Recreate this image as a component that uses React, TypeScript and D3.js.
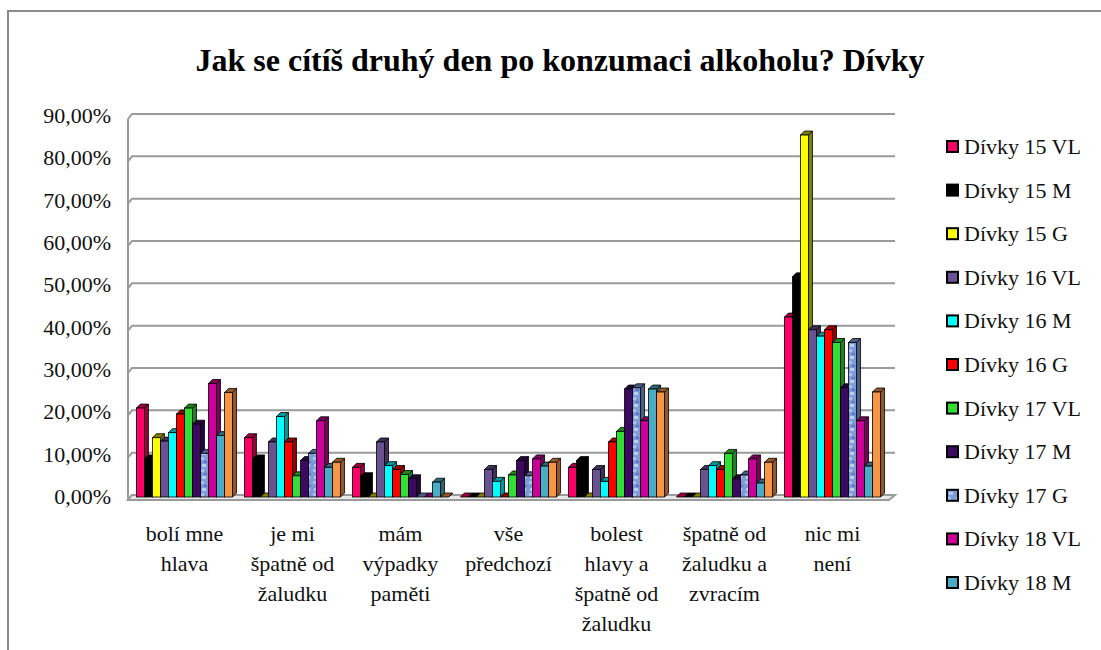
import React, { useRef, useEffect } from 'react';
import * as d3 from 'd3';

// categories (x axis), each split in lines as in the original chart
const categories = [
  'bolí mne hlava',
  'je mi špatně od žaludku',
  'mám výpadky paměti',
  'vše předchozí',
  'bolest hlavy a špatně od žaludku',
  'špatně od žaludku a zvracím',
  'nic mi není',
];
const categoryLines = [
  ['bolí mne', 'hlava'],
  ['je mi', 'špatně od', 'žaludku'],
  ['mám', 'výpadky', 'paměti'],
  ['vše', 'předchozí'],
  ['bolest', 'hlavy a', 'špatně od', 'žaludku'],
  ['špatně od', 'žaludku a', 'zvracím'],
  ['nic mi', 'není'],
];

const seriesNames = [
  'Dívky 15 VL', 'Dívky 15 M', 'Dívky 15 G',
  'Dívky 16 VL', 'Dívky 16 M', 'Dívky 16 G',
  'Dívky 17 VL', 'Dívky 17 M', 'Dívky 17 G',
  'Dívky 18 VL', 'Dívky 18 M', 'Dívky 18 G',
];

// values in percent, one array per series
const d15VL = [21.0, 14.0, 7.0, 0, 7.0, 0, 42.5];
const d15M = [9.0, 9.0, 4.8, 0, 8.6, 0, 52.0];
const d15G = [14.0, 0, 0, 0, 0, 0, 85.5];
const d16VL = [13.2, 13.0, 13.0, 6.5, 6.5, 6.5, 39.5];
const d16M = [15.2, 19.0, 7.4, 3.7, 3.7, 7.4, 38.0];
const d16G = [19.6, 13.0, 6.5, 0, 13.0, 6.5, 39.5];
const d17VL = [21.0, 5.0, 5.3, 5.2, 15.5, 10.3, 36.5];
const d17M = [17.2, 8.6, 4.3, 8.6, 25.5, 4.3, 25.8];
const d17G = [10.3, 10.3, 0, 5.0, 25.8, 5.2, 36.5];
const d18VL = [26.8, 18.0, 0, 9.0, 18.0, 9.0, 18.0];
const d18M = [14.5, 7.0, 3.5, 7.3, 25.5, 3.3, 7.3];
const d18G = [24.7, 8.2, 0, 8.2, 24.8, 8.2, 24.8];

const seriesValues = [d15VL, d15M, d15G, d16VL, d16M, d16G, d17VL, d17M, d17G, d18VL, d18M, d18G];

const seriesColors = [
  '#ff0066', '#000000', '#ffff00',
  '#6a5192', '#00ffff', '#ff0000',
  '#33dd33', '#3d0a62', 'url(#texture17G)',
  '#cc0099', '#4bacc6', '#f79646',
];
const sideColors = [
  '#99003d', '#000000', '#808000',
  '#3f3058', '#009999', '#990000',
  '#1f851f', '#25063b', '#4a5f88',
  '#7a005c', '#2d6777', '#94592a',
];

const yTicks = [0, 10, 20, 30, 40, 50, 60, 70, 80, 90];

const App = () => {
  const d3Container = useRef<SVGSVGElement | null>(null);

  useEffect(() => {
    const svg = d3.select(d3Container.current);
    svg.selectAll('*').remove();

    const serif = "'Liberation Serif', 'DejaVu Serif', 'Times New Roman', Times, serif";
    const depth = 4;

    // texture for Dívky 17 G
    const defs = svg.append('defs');
    const pat = defs
      .append('pattern')
      .attr('id', 'texture17G')
      .attr('patternUnits', 'userSpaceOnUse')
      .attr('width', 8)
      .attr('height', 12);
    pat.append('rect').attr('width', 8).attr('height', 12).attr('fill', '#7d9bd6');
    pat.append('rect').attr('x', 1).attr('y', 1).attr('width', 3).attr('height', 3).attr('fill', '#a9c3ee');
    pat.append('rect').attr('x', 4).attr('y', 5).attr('width', 3).attr('height', 2).attr('fill', '#5a78bd');
    pat.append('rect').attr('x', 2).attr('y', 8).attr('width', 4).attr('height', 3).attr('fill', '#b8cff2');

    // chart frame
    svg
      .append('rect')
      .attr('x', 8)
      .attr('y', 11)
      .attr('width', 1200)
      .attr('height', 800)
      .attr('fill', '#fff')
      .attr('stroke', '#8c8c8c')
      .attr('stroke-width', 2);

    // title
    svg
      .append('text')
      .attr('x', 560)
      .attr('y', 71)
      .attr('text-anchor', 'middle')
      .style('font-family', serif)
      .attr('font-weight', 'bold')
      .attr('font-size', 32)
      .text('Jak se cítíš druhý den po konzumaci alkoholu? Dívky');

    // scales
    const x0 = d3
      .scaleBand<string>()
      .domain(categories)
      .range([128, 889])
      .paddingInner(0.11)
      .paddingOuter(0.078);
    const x1 = d3
      .scaleBand<string>()
      .domain(seriesNames)
      .range([0, x0.bandwidth()]);
    const y = d3.scaleLinear().domain([0, 90]).range([497, 116]);

    const left = 128;
    const right = 893;

    // back wall gridlines
    const grid = svg.append('g');
    grid
      .selectAll('path')
      .data(yTicks)
      .enter()
      .append('path')
      .attr('d', (d) => `M${left},${y(d) + 3}L${left + depth},${y(d) - 2}L${right + 2},${y(d) - 2}`)
      .attr('fill', 'none')
      .attr('stroke', '#9a9a9a')
      .attr('stroke-width', 2);
    grid
      .append('line')
      .attr('x1', left)
      .attr('x2', left)
      .attr('y1', y(90) + 3)
      .attr('y2', y(0) + 3)
      .attr('stroke', '#9a9a9a')
      .attr('stroke-width', 2);

    // floor
    svg
      .append('path')
      .attr('d', `M${left},${y(0) + 3}L${right - 4},${y(0) + 3}L${right + 2},${y(0) - 2}L${left + depth},${y(0) - 2}Z`)
      .attr('fill', '#e8e8e8')
      .attr('stroke', '#9a9a9a')
      .attr('stroke-width', 2);

    // y tick labels
    svg
      .append('g')
      .selectAll('text')
      .data(yTicks)
      .enter()
      .append('text')
      .attr('x', 111)
      .attr('y', (d) => y(d) + 7)
      .attr('text-anchor', 'end')
      .style('font-family', serif)
      .attr('font-size', 22)
      .attr('fill', '#111')
      .text((d) => d.toFixed(2).replace('.', ',') + '%');

    // bars, 3D style: side, top, front
    const bars = svg.append('g');
    categories.forEach((cat, ci) => {
      seriesNames.forEach((name, si) => {
        const v = seriesValues[si][ci];
        const bx = (x0(cat) as number) + (x1(name) as number);
        const bw = x1.bandwidth();
        const by = y(v);
        const b0 = y(0);
        const g = bars.append('g');
        g.append('path')
          .attr('d', `M${bx + bw},${by}L${bx + bw + depth},${by - depth}L${bx + bw + depth},${b0 - depth}L${bx + bw},${b0}Z`)
          .attr('fill', sideColors[si])
          .attr('stroke', '#000')
          .attr('stroke-width', 0.8);
        g.append('path')
          .attr('d', `M${bx},${by}L${bx + depth},${by - depth}L${bx + bw + depth},${by - depth}L${bx + bw},${by}Z`)
          .attr('fill', sideColors[si])
          .attr('stroke', '#000')
          .attr('stroke-width', 0.8);
        g.append('rect')
          .attr('x', bx)
          .attr('y', by)
          .attr('width', bw)
          .attr('height', b0 - by)
          .attr('fill', seriesColors[si])
          .attr('stroke', '#000')
          .attr('stroke-width', 0.8);
      });
    });

    // category labels
    const labels = svg.append('g');
    categories.forEach((cat, ci) => {
      const t = labels
        .append('text')
        .attr('x', (x0(cat) as number) + x0.bandwidth() / 2)
        .attr('y', 541)
        .attr('text-anchor', 'middle')
        .style('font-family', serif)
        .attr('font-size', 22)
        .attr('fill', '#111');
      categoryLines[ci].forEach((line, li) => {
        t.append('tspan')
          .attr('x', (x0(cat) as number) + x0.bandwidth() / 2)
          .attr('dy', li === 0 ? 0 : 30)
          .text(line);
      });
    });

    // legend (last entry is cut off by the frame in the original)
    const legend = svg
      .append('g')
      .selectAll('g')
      .data(seriesNames.slice(0, 11))
      .enter()
      .append('g')
      .attr('transform', (d, i) => `translate(947, ${147 + i * 43.6})`);
    legend
      .append('rect')
      .attr('x', 0)
      .attr('y', -6)
      .attr('width', 11)
      .attr('height', 11)
      .attr('fill', (d, i) => seriesColors[i])
      .attr('stroke', '#000')
      .attr('stroke-width', 2);
    legend
      .append('text')
      .attr('x', 17)
      .attr('y', 7)
      .style('font-family', serif)
      .attr('font-size', 22)
      .attr('fill', '#111')
      .text((d) => d);
  }, []);

  return (
    <svg
      ref={d3Container}
      width={1101}
      height={650}
      style={{ position: 'fixed', left: 0, top: 0, background: '#fff' }}
    />
  );
};

export default App;
